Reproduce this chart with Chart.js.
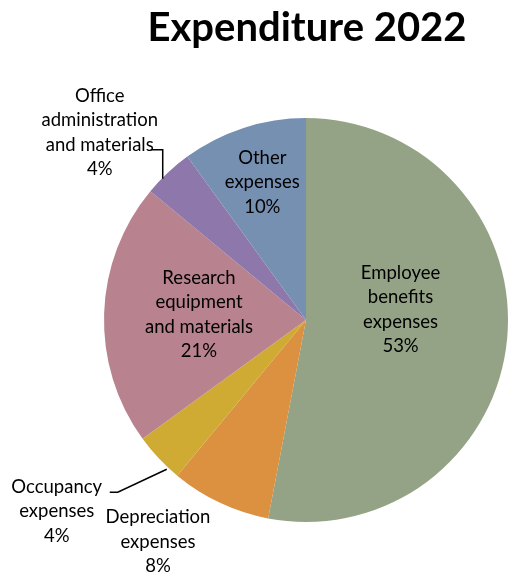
<!DOCTYPE html>
<html>
<head>
<meta charset="utf-8">
<script src="https://cdn.jsdelivr.net/npm/chart.js@4"></script>
<style>
html,body{margin:0;padding:0;background:#fff;}
#wrap{position:relative;width:509px;height:572px;}
</style>
</head>
<body>
<div id="wrap"><canvas id="c" width="509" height="572"></canvas></div>
<script>
const title = "Expenditure 2022";
const categories = [
  ["Employee", "benefits", "expenses"],
  ["Depreciation", "expenses"],
  ["Occupancy", "expenses"],
  ["Research", "equipment", "and materials"],
  ["Office", "administration", "and materials"],
  ["Other", "expenses"]
];
const values = [53, 8, 4, 21, 4, 10];
const colors = ["#94A385", "#DB9140", "#D0AB33", "#B9828F", "#8E77AB", "#7690B1"];

// label placement: radius factor, text offset, and optional leader line
const labelPlace = [
  {f: 0.5,  dx: -6,   dy: -20},
  {f: 1.0,  dx: -62,  dy: 39},
  {f: 1.0,  dx: -102, dy: 53, leader: "occ"},
  {f: 0.53, dx: 0,    dy: -2},
  {f: 1.0,  dx: -68,  dy: -40, leader: "office"},
  {f: 0.7,  dx: 0,    dy: -3}
];

const FONT = "Lato, 'Open Sans', sans-serif";

const labelPlugin = {
  id: 'labels',
  afterDraw(chart) {
    const ctx = chart.ctx;
    ctx.save();
    // title
    ctx.fillStyle = "#000";
    ctx.font = "bold 40px " + FONT;
    ctx.textAlign = "center";
    ctx.textBaseline = "alphabetic";
    ctx.fillText(title, 307, 41);

    const meta = chart.getDatasetMeta(0);
    const total = values.reduce((a, b) => a + b, 0);
    meta.data.forEach((arc, i) => {
      const p = labelPlace[i];
      const mid = (arc.startAngle + arc.endAngle) / 2;
      const R = arc.outerRadius;
      const ax = arc.x + Math.cos(mid) * R * p.f;
      const ay = arc.y + Math.sin(mid) * R * p.f;
      const lines = categories[i].concat([Math.round(values[i] / total * 100) + "%"]);
      const lh = 24.5;
      const cx = ax + p.dx, cy = ay + p.dy;
      ctx.font = "18.5px " + FONT;
      ctx.fillStyle = "#000";
      ctx.textAlign = "center";
      ctx.textBaseline = "middle";
      lines.forEach((t, k) => {
        ctx.fillText(t, cx, cy + (k - (lines.length - 1) / 2) * lh);
      });
      ctx.strokeStyle = "#000";
      ctx.lineWidth = 1.5;
      if (p.leader === "office") {
        ctx.beginPath();
        ctx.moveTo(ax - 5, ay + 6);
        ctx.lineTo(ax - 5, ay - 23);
        ctx.lineTo(ax - 17, ay - 23);
        ctx.stroke();
      } else if (p.leader === "occ") {
        ctx.beginPath();
        ctx.moveTo(ax + 8, ay + 11);
        ctx.lineTo(ax - 41, ay + 34);
        ctx.lineTo(ax - 49, ay + 34);
        ctx.stroke();
      }
    });
    ctx.restore();
  }
};

new Chart(document.getElementById('c'), {
  type: 'pie',
  data: {
    labels: categories.map(c => c.join(' ')),
    datasets: [{
      data: values,
      backgroundColor: colors,
      borderWidth: 0
    }]
  },
  options: {
    responsive: false,
    animation: false,
    rotation: 0,
    layout: {padding: {left: 104, right: 1, top: 118, bottom: 50}},
    plugins: {legend: {display: false}, tooltip: {enabled: false}, title: {display: false}}
  },
  plugins: [labelPlugin]
});
</script>
</body>
</html>
